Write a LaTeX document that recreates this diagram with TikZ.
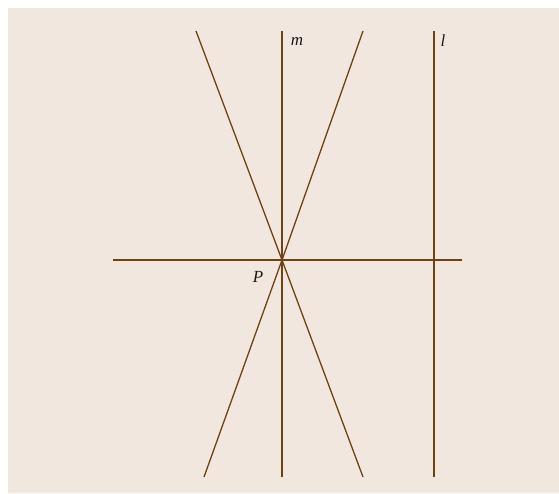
\documentclass[tikz,border=0pt]{standalone}
\usepackage{fontspec}
\setmainfont{Liberation Serif}
\usepackage{xcolor}
\usepackage{tikz}
\usetikzlibrary{calc}
\definecolor{geopaper}{HTML}{F1E7DE}
\definecolor{geoline}{HTML}{6E4313}
\definecolor{geoink}{HTML}{1A1A1A}

\begin{document}
\begin{tikzpicture}[x=1pt,y=1pt,
    geo/.style={draw=geoline,line width=1.3pt},
    lbl/.style={font=\fontsize{17}{20}\selectfont\itshape\color{geoink}}]
      \useasboundingbox (0,0) rectangle (559,493);
      \fill[geopaper] (8,0) rectangle (559,485);
      % points
      \coordinate (P) at (282,233);
      \coordinate (hl) at (113,233);
      \coordinate (hr) at (462,233);
      \coordinate (mtop) at (282,462);
      \coordinate (mbot) at (282,16);
      \coordinate (ltop) at (434,462);
      \coordinate (lbot) at (434,16);
      \coordinate (atop) at (196,462);
      \coordinate (abot) at (363,16);
      \coordinate (btop) at (363,462);
      \coordinate (bbot) at (204,16);
      % lines
      \draw[geo] (hl) -- (hr);
      \draw[geo] (mtop) -- (mbot);
      \draw[geo] (ltop) -- (lbot);
      \draw[geo] (atop) -- (P) -- (abot);
      \draw[geo] (btop) -- (P) -- (bbot);
      % labels
      \node[lbl] (mlabel) at (297,452) {m};
      \node[lbl] (llabel) at (443,452) {l};
      \node[lbl] (plabel) at (258,216) {P};
    \end{tikzpicture}
\end{document}
